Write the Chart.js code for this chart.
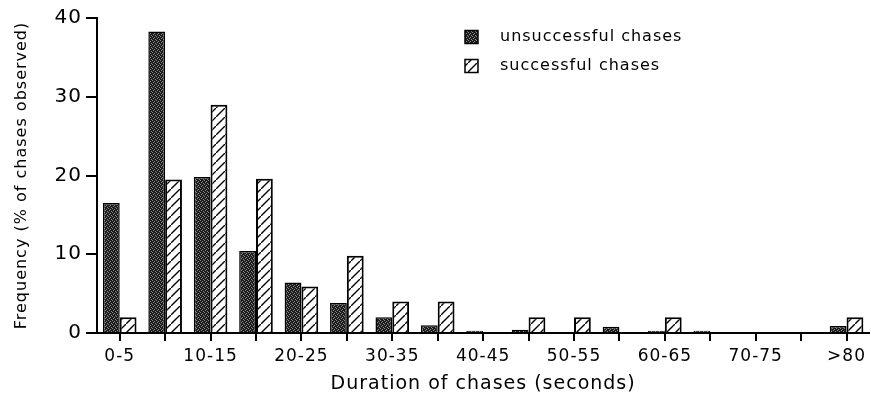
<!DOCTYPE html>
<html>
<head>
<meta charset="utf-8">
<script src="https://cdn.jsdelivr.net/npm/chart.js@4"></script>
<style>
  html, body { margin: 0; padding: 0; background: #fff; }
  #wrap { width: 871px; height: 405px; }
</style>
</head>
<body>
<div id="wrap"><canvas id="chart" width="871" height="405"></canvas></div>
<script>
'use strict';

// ---- Data ----

const categories = ['0-5', '5-10', '10-15', '15-20', '20-25', '25-30', '30-35', '35-40', '40-45',
                    '45-50', '50-55', '55-60', '60-65', '65-70', '70-75', '75-80', '>80'];
const unsuccessful = [16.5, 38.3, 19.8, 10.4, 6.4, 3.8, 2.0, 1.0, 0.3, 0.4, 0, 0.8, 0.3, 0.3, 0, 0, 0.9];
const successful   = [2.0, 19.5, 29.0, 19.6, 5.9, 9.8, 4.0, 4.0, 0, 2.0, 2.0, 0, 2.0, 0, 0, 0, 2.0];
const yTicks = [0, 10, 20, 30, 40];

const FONT = 'DejaVu Sans';

// ---- Fill patterns ----

function stipplePattern() {
  const c = document.createElement('canvas');
  c.width = 4; c.height = 4;
  const g = c.getContext('2d');
  g.fillStyle = '#1c1c1c';
  g.fillRect(0, 0, 4, 4);
  g.fillStyle = '#8a8a8a';
  [[0, 0], [2, 1], [1, 2], [3, 3]].forEach(([x, y]) => g.fillRect(x, y, 1, 1));
  return g.createPattern(c, 'repeat');
}

function hatchPattern() {
  const s = 9;
  const c = document.createElement('canvas');
  c.width = s; c.height = s;
  const g = c.getContext('2d');
  g.fillStyle = '#fff';
  g.fillRect(0, 0, s, s);
  g.strokeStyle = '#000';
  g.lineWidth = 1.4;
  g.beginPath();
  g.moveTo(-1, s + 1); g.lineTo(s + 1, -1);
  g.moveTo(-2, 1); g.lineTo(1, -2);
  g.moveTo(s - 1, s + 2); g.lineTo(s + 2, s - 1);
  g.stroke();
  return g.createPattern(c, 'repeat');
}

// ---- Wider text, like the scanned original ----

const textSpacing = {
  id: 'textSpacing',
  beforeLayout(chart) { chart.ctx.letterSpacing = '1px'; },
  beforeDraw(chart) { chart.ctx.letterSpacing = '1px'; },
};

// ---- Legend (drawn inside the plot, top right) ----

const insideLegend = {
  id: 'insideLegend',
  afterDraw(chart) {
    const ctx = chart.ctx;
    const x = 465, y0 = 37, gap = 29, box = 13;
    ctx.save();
    chart.data.datasets.forEach((ds, i) => {
      const y = y0 + i * gap;
      ctx.fillStyle = ds.backgroundColor;
      ctx.fillRect(x, y - box / 2, box, box);
      ctx.strokeStyle = '#000';
      ctx.lineWidth = 1.5;
      ctx.strokeRect(x, y - box / 2, box, box);
      ctx.fillStyle = '#000';
      ctx.font = `16px "${FONT}"`;
      ctx.textBaseline = 'middle';
      ctx.fillText(ds.label, x + 35, y);
    });
    ctx.restore();
  }
};

// ---- Chart ----

const ctx = document.getElementById('chart').getContext('2d');
new Chart(ctx, {
  type: 'bar',
  data: {
    labels: categories,
    datasets: [
      {
        label: 'unsuccessful chases',
        data: unsuccessful,
        backgroundColor: stipplePattern(),
        borderColor: '#000',
        borderWidth: 1.5,
        categoryPercentage: 0.74,
        barPercentage: 1.0,
      },
      {
        label: 'successful chases',
        data: successful,
        backgroundColor: hatchPattern(),
        borderColor: '#000',
        borderWidth: 2,
        categoryPercentage: 0.74,
        barPercentage: 1.0,
      },
    ],
  },
  options: {
    responsive: false,
    devicePixelRatio: 1,
    animation: false,
    layout: { padding: { top: 18, right: 0, bottom: 0, left: 0 } },
    plugins: {
      legend: { display: false },
      tooltip: { enabled: false },
    },
    scales: {
      x: {
        offset: true,
        grid: { offset: false, drawOnChartArea: false, drawTicks: true, tickLength: 8, color: '#000', lineWidth: 2 },
        border: { color: '#000', width: 2 },
        ticks: {
          autoSkip: false,
          maxRotation: 0,
          color: '#000',
          padding: 5,
          font: { family: FONT, size: 17 },
          callback: (val, i) => (i % 2 === 0 ? categories[i] : ''),
        },
        title: {
          display: true,
          text: 'Duration of chases (seconds)',
          color: '#000',
          font: { family: FONT, size: 19 },
          padding: { top: 0, bottom: 10 },
        },
        afterFit: s => { s.height = 72; },
      },
      y: {
        min: yTicks[0],
        max: yTicks[yTicks.length - 1],
        afterBuildTicks: s => { s.ticks = yTicks.map(v => ({ value: v })); },
        grid: { drawOnChartArea: false, drawTicks: true, tickLength: 11, color: '#000', lineWidth: 2 },
        border: { color: '#000', width: 2 },
        ticks: {
          color: '#000',
          padding: 4,
          font: { family: FONT, size: 20 },
        },
        title: {
          display: true,
          text: 'Frequency (% of chases observed)',
          color: '#000',
          font: { family: FONT, size: 16 },
          padding: { top: 12, bottom: 0 },
        },
        afterFit: s => { s.width = 97; },
      },
    },
  },
  plugins: [textSpacing, insideLegend],
});
</script>
</body>
</html>
